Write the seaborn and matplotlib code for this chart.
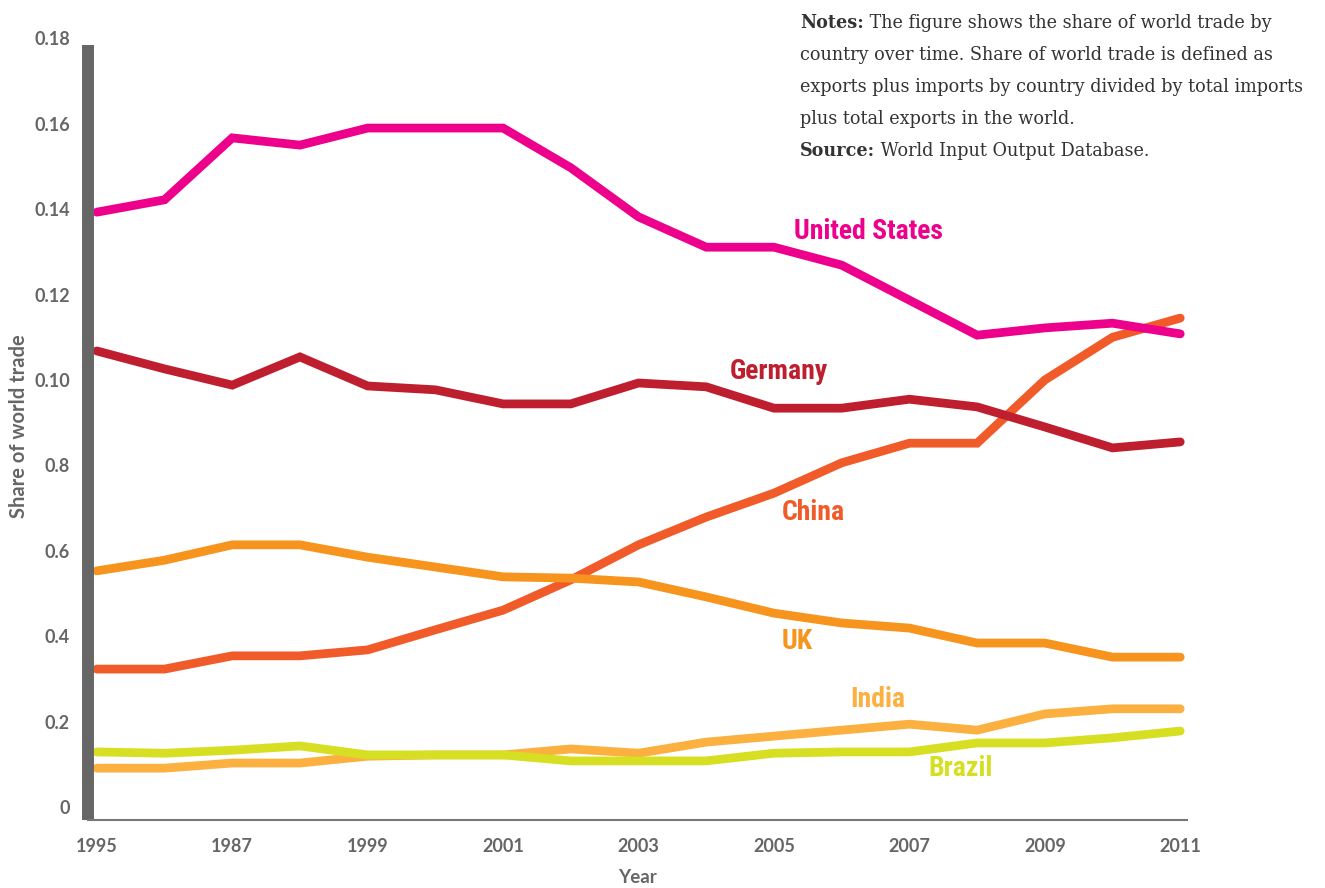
import matplotlib
matplotlib.use("Agg")
import matplotlib.pyplot as plt
from matplotlib import font_manager
import seaborn as sns
import pandas as pd

# datos
years = list(range(1995, 2012))
united_states = [0.1393, 0.1422, 0.1567, 0.1550, 0.1590, 0.1590, 0.1590, 0.1497, 0.1382,
                 0.1311, 0.1311, 0.1269, 0.1187, 0.1105, 0.1122, 0.1133, 0.1108]
germany = [0.1068, 0.1026, 0.0988, 0.1054, 0.0986, 0.0977, 0.0944, 0.0944, 0.0993,
           0.0984, 0.0934, 0.0934, 0.0955, 0.0937, 0.0890, 0.0841, 0.0855]
china = [0.0323, 0.0323, 0.0354, 0.0354, 0.0368, 0.0415, 0.0461, 0.0532, 0.0614,
         0.0679, 0.0735, 0.0806, 0.0852, 0.0852, 0.1000, 0.1100, 0.1145]
uk = [0.0553, 0.0578, 0.0614, 0.0614, 0.0585, 0.0562, 0.0539, 0.0536, 0.0527,
      0.0492, 0.0454, 0.0431, 0.0419, 0.0384, 0.0384, 0.0351, 0.0351]
india = [0.0091, 0.0091, 0.0103, 0.0103, 0.0119, 0.0122, 0.0122, 0.0136, 0.0126,
         0.0152, 0.0166, 0.0180, 0.0194, 0.0180, 0.0218, 0.0230, 0.0230]
brazil = [0.0129, 0.0126, 0.0133, 0.0143, 0.0122, 0.0122, 0.0122, 0.0108, 0.0108,
          0.0108, 0.0126, 0.0129, 0.0129, 0.0150, 0.0150, 0.0162, 0.0178]

y_ticks = [0, 0.02, 0.04, 0.06, 0.08, 0.10, 0.12, 0.14, 0.16, 0.18]
y_tick_labels = ["0", "0.2", "0.4", "0.6", "0.8", "0.10", "0.12", "0.14", "0.16", "0.18"]
x_ticks = [1995, 1997, 1999, 2001, 2003, 2005, 2007, 2009, 2011]
x_tick_labels = ["1995", "1987", "1999", "2001", "2003", "2005", "2007", "2009", "2011"]

# nombre, serie, color, posicion de la etiqueta (año, valor)
series = [
    ("China", china, "#F15A29", (2005.58, 0.0690)),
    ("UK", uk, "#F7941D", (2005.35, 0.0387)),
    ("Germany", germany, "#BE1E2D", (2005.07, 0.1020)),
    ("United States", united_states, "#EC008C", (2006.4, 0.1347)),
    ("India", india, "#FBB040", (2006.54, 0.0251)),
    ("Brazil", brazil, "#D7DF23", (2007.75, 0.0091)),
]

sns.set_theme(style="white")
names = {f.name for f in font_manager.fontManager.ttflist}
cond_font = next((n for n in ["Liberation Sans Narrow", "Roboto Condensed", "Lato"] if n in names), "DejaVu Sans")
plt.rcParams["font.family"] = ["Lato", "DejaVu Sans"]

grey = "#666666"
fig = plt.figure(figsize=(13.25, 8.88), dpi=100)
# eje: 0 en y=807px, 4270 px por unidad
ax = fig.add_axes([88 / 1325, 1 - 820 / 888, (1187 - 88) / 1325, (820 - 33) / 888])

for name, vals, color, pos in series:
    df = pd.DataFrame({"year": years, "share": vals})
    sns.lineplot(data=df, x="year", y="share", ax=ax, color=color, linewidth=6.3,
                 solid_capstyle="round", solid_joinstyle="miter")
    ax.text(pos[0], pos[1], name, color=color, fontsize=20, fontweight="bold",
            family=cond_font, ha="center", va="center")

ax.set_xlim(1994.87, 2011.1)
ax.set_ylim(-0.00304, 0.18126)
ax.set_yticks(y_ticks)
ax.set_yticklabels(y_tick_labels)
ax.set_xticks(x_ticks)
ax.set_xticklabels(x_tick_labels)
ax.tick_params(axis="y", length=0, pad=13, labelsize=13, labelcolor=grey)
ax.tick_params(axis="x", length=0, pad=13, labelsize=13, labelcolor=grey)
for lab in ax.get_xticklabels() + ax.get_yticklabels():
    lab.set_fontweight("bold")

ax.set_xlabel("Year", fontsize=13.5, fontweight="bold", color=grey)
ax.set_ylabel("Share of world trade", fontsize=14.5, fontweight="bold", color=grey)
ax.xaxis.set_label_coords(0.5, (820 - 869) / 787)
ax.yaxis.set_label_coords((29 - 88) / 1099, 0.5)

for s in ["top", "right"]:
    ax.spines[s].set_visible(False)
ax.spines["left"].set_color(grey)
ax.spines["left"].set_linewidth(8.6)
ax.spines["left"].set_capstyle("butt")
ax.spines["left"].set_bounds(-0.00304, 0.1785)
ax.spines["bottom"].set_color("#777777")
ax.spines["bottom"].set_linewidth(1.5)
ax.grid(False)

# notas en la esquina superior derecha
serif = "DejaVu Serif"
note_x = 800 / 1325
note_color = "#333333"
note_size = 12.7
lines = [
    ("Notes:", " The figure shows the share of world trade by"),
    ("", "country over time. Share of world trade is defined as"),
    ("", "exports plus imports by country divided by total imports"),
    ("", "plus total exports in the world."),
    ("Source:", " World Input Output Database."),
]
for i, (bold, rest) in enumerate(lines):
    yb = 1 - (28 + 32 * i) / 888
    if bold:
        t = fig.text(note_x, yb, bold, fontsize=note_size, family=serif, fontweight="bold",
                     color=note_color, va="baseline")
        ax.annotate(rest, xy=(1, 0), xycoords=t, fontsize=note_size, family=serif,
                    color=note_color, va="bottom", annotation_clip=False)
    else:
        fig.text(note_x, yb, rest, fontsize=note_size, family=serif, color=note_color, va="baseline")

fig.savefig("out.png", dpi=100)
